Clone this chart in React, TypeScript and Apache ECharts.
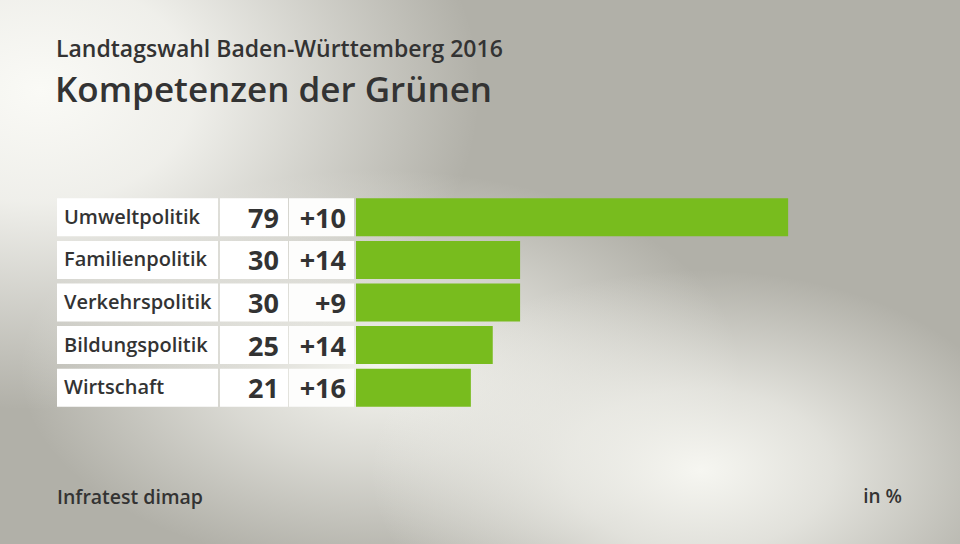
import React, { useEffect, useRef } from "react";
import * as echarts from "echarts";

const categories = ["Umweltpolitik", "Familienpolitik", "Verkehrspolitik", "Bildungspolitik", "Wirtschaft"];
const values = [79, 30, 30, 25, 21];
const changes = [10, 14, 9, 14, 16];

const FONT = "'Open Sans', 'Noto Sans', sans-serif";
const TEXT = "#333333";

export default function App() {
  const ref = useRef<HTMLDivElement>(null);
  useEffect(() => {
    if (!ref.current) return;
    const chart = echarts.init(ref.current, null, { renderer: "svg" });
    const option: any = {
      animation: false,
      backgroundColor: "transparent",
      grid: { left: 356, right: 57, top: 196, bottom: 135 },
      xAxis: { type: "value", min: 0, max: 100, show: false },
      yAxis: {
        type: "category",
        data: categories,
        inverse: true,
        show: false,
      },
      graphic: [
        {
          type: "text",
          left: 56,
          top: 36,
          style: { text: "Landtagswahl Baden-Württemberg 2016", font: `600 23px ${FONT}`, fill: TEXT },
        },
        {
          type: "text",
          left: 55,
          top: 71,
          style: { text: "Kompetenzen der Grünen", font: `600 35px ${FONT}`, fill: TEXT },
        },
        {
          type: "text",
          left: 57,
          top: 486,
          style: { text: "Infratest dimap", font: `600 19.5px ${FONT}`, fill: TEXT },
        },
        {
          type: "text",
          right: 58,
          top: 486,
          style: { text: "in %", font: `600 19px ${FONT}`, fill: TEXT },
        },
      ],
      series: [
        {
          type: "custom",
          data: categories.map((c, i) => [0, i]),
          encode: { x: 0, y: 1 },
          z: 1,
          renderItem: (params: any, api: any) => {
            const idx = api.value(1);
            const yc = api.coord([0, idx])[1];
            const h = 38;
            const top = yc - h / 2;
            return {
              type: "group",
              children: [
                { type: "rect", shape: { x: 57, y: top, width: 161, height: h }, style: { fill: "#ffffff" } },
                { type: "rect", shape: { x: 220, y: top, width: 68, height: h }, style: { fill: "#ffffff" } },
                { type: "rect", shape: { x: 289, y: top, width: 65, height: h }, style: { fill: "#fdfdfc" } },
                {
                  type: "text",
                  style: {
                    text: categories[idx],
                    x: 64,
                    y: yc - 1,
                    font: `600 20px ${FONT}`,
                    fill: TEXT,
                    textAlign: "left",
                    textVerticalAlign: "middle",
                  },
                },
                {
                  type: "text",
                  style: {
                    text: String(values[idx]),
                    x: 279,
                    y: yc,
                    font: `700 27px ${FONT}`,
                    fill: TEXT,
                    textAlign: "right",
                    textVerticalAlign: "middle",
                  },
                },
                {
                  type: "text",
                  style: {
                    text: "+" + changes[idx],
                    x: 346,
                    y: yc,
                    font: `700 27px ${FONT}`,
                    fill: TEXT,
                    textAlign: "right",
                    textVerticalAlign: "middle",
                  },
                },
              ],
            };
          },
        },
        {
          type: "bar",
          data: values,
          barWidth: 38,
          itemStyle: { color: "#78bc1e" },
          z: 2,
        },
      ],
    };
    chart.setOption(option);
    return () => chart.dispose();
  }, []);

  const bg = [
    "radial-gradient(ellipse 440px 320px at 40px 90px, rgba(250,250,246,1) 0%, rgba(250,250,246,0.85) 35%, rgba(250,250,246,0) 100%)",
    "radial-gradient(ellipse 330px 200px at 700px 470px, rgba(246,246,241,1) 0%, rgba(246,246,241,0.7) 40%, rgba(246,246,241,0) 100%)",
    "radial-gradient(ellipse 360px 200px at 380px 370px, rgba(244,244,239,1) 0%, rgba(244,244,239,0.6) 45%, rgba(244,244,239,0) 100%)",
    "#b1b0a8",
  ].join(", ");

  return (
    <div
      style={{ position: "fixed", left: 0, top: 0, width: 960, height: 544, background: bg }}
    >
      <div ref={ref} style={{ width: 960, height: 544 }} />
    </div>
  );
}
